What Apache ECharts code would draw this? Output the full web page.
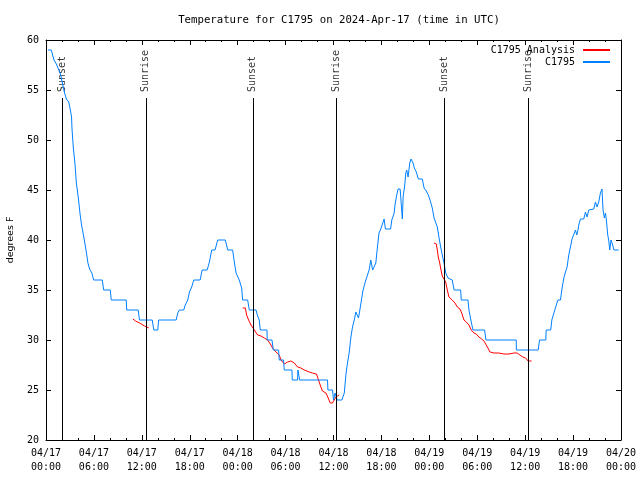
<!DOCTYPE html>
<html>
<head>
<meta charset="utf-8">
<script src="https://cdn.jsdelivr.net/npm/echarts@6/dist/echarts.min.js"></script>
<style>html,body{margin:0;padding:0;background:#fff}#c{width:640px;height:480px}</style>
</head>
<body>
<div id="c"></div>
<script>
// Hours since 2024-04-17 00:00 UTC
const stationHours = [0.25,0.65,0.8,1.0,1.3,1.55,1.85,2.1,2.33,2.55,2.85,3.05,3.2,3.25,3.42,3.62,3.8,4.05,4.25,4.45,4.62,4.84,5.05,5.25,5.46,5.75,5.96,7.05,7.22,8.05,8.17,10.05,10.1,11.55,11.7,13.3,13.5,14.0,14.1,16.3,16.5,16.7,17.25,17.43,17.75,17.96,18.25,18.5,19.3,19.55,20.18,20.46,20.75,21.17,21.5,22.46,22.75,23.37,23.6,23.8,24.2,24.5,24.62,25.25,25.46,26.3,26.46,26.7,26.83,27.67,27.7,28.3,28.46,29.13,29.2,29.75,29.83,30.8,30.84,31.5,31.55,31.7,31.76,35.25,35.3,35.88,36.0,36.2,36.45,37.05,37.35,37.55,37.75,37.96,38.18,38.38,38.6,38.8,39.13,39.3,39.5,39.7,40.05,40.46,40.67,40.9,41.0,41.3,41.5,41.7,41.92,42.13,42.34,42.5,43.15,43.3,43.6,43.7,43.87,44.08,44.34,44.42,44.62,44.72,44.92,45.05,45.17,45.34,45.55,45.71,45.96,46.12,46.37,46.62,47.12,47.34,47.62,47.87,48.09,48.37,48.59,48.8,49.0,49.2,49.42,49.62,49.84,50.05,50.34,50.87,51.1,51.92,52.0,52.84,52.96,53.2,53.46,54.92,55.09,58.88,58.9,61.63,61.8,62.58,62.63,63.2,63.34,63.71,64.09,64.42,64.62,64.84,65.05,65.25,65.46,65.67,65.87,66.09,66.3,66.46,66.62,66.71,66.92,67.34,67.55,67.75,67.96,68.17,68.59,68.8,69.0,69.21,69.42,69.62,69.75,69.92,70.05,70.17,70.34,70.46,70.59,70.75,70.96,71.12,71.71];
const stationTemps = [59,59,58.6,58,57.6,57.1,56.5,55.5,54.7,54.1,53.8,53,52.3,51.2,49.2,47.7,45.7,44.2,42.7,41.5,40.8,39.8,38.8,37.7,37.1,36.7,36,36,35,35,34,34,33,33,32,32,31,31,32,32,32.7,33,33,33.5,34,34.8,35.3,36,36,37,37,37.8,39,39,40,40,39,39,37.7,36.7,36,35.2,34,34,33,33,32.5,32,31,31,30,30,29,29,28,28,27,27,26,26,27,27,26,26,25,25,24,24.7,24,24,24.7,26.5,27.7,28.7,30.3,31.3,32,32.8,32.2,33,34,35,36,37,38,37,37,37.7,39.3,40.7,41.1,41.3,42.1,41.1,41.1,42,42.7,43.5,44.3,45.1,45.1,44.3,42.1,44.3,45.5,46.7,47,46.3,47.7,48.1,47.7,47.2,46.8,46.1,46.1,45.2,44.9,44.5,44,43.2,42.2,42,41.3,40.3,39.3,38.5,37.7,36.7,36.2,36,35,35,34,34,33,32,31,31,30,30,29,29,30,30,31,31,32,33,34,34,35.2,36.2,36.8,37.3,38.5,39.3,40.1,40.3,41,40.5,41,41.5,42.1,42.1,42.8,42.3,43,43.1,43.1,43.8,43.3,43.8,44.7,45.1,43,42.2,42.7,42,40.5,40,39,40,39.5,39,39];

const analysis1Hours = [10.88,11.21,11.71,12.34,12.88];
const analysis1Temps = [32.1,31.9,31.7,31.4,31.2];
const analysis2Hours = [24.62,24.96,25.12,25.37,25.67,26.09,26.5,26.92,27.34,27.75,28.17,28.37,28.8,29.21,29.42,29.84,30.25,30.67,31.09,31.5,31.92,32.34,32.96,33.37,33.87,34.12,34.42,34.62,35.05,35.34,35.59,35.87,36.09,36.3,36.71];
const analysis2Temps = [33.2,33.2,32.5,32.0,31.5,31.0,30.5,30.4,30.2,30.0,29.5,29.2,28.8,28.5,28.0,27.6,27.8,27.9,27.7,27.3,27.2,27.0,26.8,26.7,26.6,26.0,25.3,24.9,24.7,24.2,23.7,23.7,24.0,24.3,24.5];
const analysis3Hours = [48.59,48.87,49.0,49.12,49.3,49.46,49.62,49.84,50.05,50.25,50.46,50.67,50.87,51.21,51.5,51.84,52.05,52.34,52.62,52.96,53.25,53.59,53.87,54.21,54.55,54.84,55.05,55.34,55.59,56.09,56.71,57.34,57.96,58.59,59.0,59.34,59.71,60.05,60.37,60.8];
const analysis3Temps = [39.7,39.6,39.0,38.3,37.7,37.0,36.4,36.3,35.8,35.0,34.3,34.1,34.0,33.7,33.3,33.1,32.7,32.0,31.8,31.5,31.0,30.7,30.6,30.3,30.1,29.9,29.6,29.2,28.8,28.7,28.7,28.6,28.6,28.7,28.7,28.5,28.3,28.2,27.9,27.9];

const eventHours = [2.0, 12.5, 25.9, 36.4, 49.9, 60.4];
const eventLabels = ['Sunset','Sunrise','Sunset','Sunrise','Sunset','Sunrise'];
const eventLineTop = 54.2;
const eventLabelBase = 54.8;

const yTicks = [20,25,30,35,40,45,50,55,60];
const dayLabels = ['04/17','04/18','04/19','04/20'];

const MONO = '"DejaVu Sans Mono","Liberation Mono",monospace';

function zip(h, t) { return h.map((x, i) => [x, t[i]]); }
const stationData = zip(stationHours, stationTemps);
const analysisData = [].concat(zip(analysis1Hours, analysis1Temps), [[null, null]],
  zip(analysis2Hours, analysis2Temps), [[null, null]], zip(analysis3Hours, analysis3Temps));

function fmtX(v) {
  const d = Math.floor(v / 24);
  const hh = String(Math.round(v - d * 24)).padStart(2, '0');
  return dayLabels[d] + '\n' + hh + ':00';
}

const chart = echarts.init(document.getElementById('c'), null, { renderer: 'canvas' });
const baseX = {
  type: 'value', min: 0, max: 72, interval: 6,
  axisLine: { show: true, onZero: false, lineStyle: { color: '#000', width: 1 } },
  axisTick: { show: true, inside: true, length: 5, lineStyle: { color: '#000' } },
  minorTick: { show: true, splitNumber: 3, length: 2, lineStyle: { color: '#000' } },
  splitLine: { show: false }
};
const baseY = {
  type: 'value', min: yTicks[0], max: yTicks[yTicks.length - 1], interval: 5,
  axisLine: { show: true, onZero: false, lineStyle: { color: '#000', width: 1 } },
  axisTick: { show: true, inside: true, length: 5, lineStyle: { color: '#000' } },
  splitLine: { show: false }
};

chart.setOption({
  animation: false,
  backgroundColor: '#fff',
  title: {
    text: 'Temperature for C1795 on 2024-Apr-17 (time in UTC)',
    left: 334, top: 10, textAlign: 'center',
    textStyle: { fontFamily: MONO, fontSize: 10.7, fontWeight: 'normal', color: '#000' }
  },
  legend: {
    data: ['C1795 Analysis', 'C1795'],
    orient: 'vertical', align: 'right', right: 30, top: 44,
    itemWidth: 27, itemHeight: 2, itemGap: 0, padding: 0,
    icon: 'rect',
    textStyle: { fontFamily: MONO, fontSize: 10, color: '#000', padding: [0, 3, 0, 0], lineHeight: 12 }
  },
  grid: { left: 46, right: 19, top: 40, bottom: 40, containLabel: false, outerBoundsMode: 'none' },
  xAxis: [
    Object.assign({}, baseX, {
      position: 'bottom',
      axisLabel: { show: true, formatter: fmtX, fontFamily: MONO, fontSize: 10, color: '#000', lineHeight: 14, margin: 6 }
    }),
    Object.assign({}, baseX, { position: 'top', axisLabel: { show: false } })
  ],
  yAxis: [
    Object.assign({}, baseY, {
      position: 'left',
      name: 'degrees F', nameLocation: 'middle', nameRotate: 90, nameGap: 30,
      nameTextStyle: { fontFamily: '"DejaVu Sans",sans-serif', fontSize: 9.5, color: '#000' },
      axisLabel: { show: true, fontFamily: MONO, fontSize: 10, color: '#000', margin: 7 }
    }),
    Object.assign({}, baseY, { position: 'right', axisLabel: { show: false } })
  ],
  series: [
    {
      name: 'C1795 Analysis', type: 'line', data: analysisData,
      showSymbol: false, connectNulls: false,
      lineStyle: { color: '#ff0000', width: 1 }, itemStyle: { color: '#ff0000' }
    },
    {
      name: 'C1795', type: 'line', data: stationData,
      showSymbol: false,
      lineStyle: { color: '#0080ff', width: 1 }, itemStyle: { color: '#0080ff' },
      markLine: {
        silent: true, symbol: ['none', 'none'], animation: false,
        lineStyle: { color: '#000', width: 1, type: 'solid' },
        label: { show: false },
        data: eventHours.map(h => [{ coord: [h, yTicks[0]] }, { coord: [h, eventLineTop] }])
      }
    },
    {
      type: 'scatter', symbolSize: 0, silent: true,
      data: eventHours.map((h, i) => [h, eventLabelBase, eventLabels[i]]),
      label: {
        show: true, position: 'inside', rotate: 90, align: 'left', verticalAlign: 'middle',
        formatter: p => p.value[2],
        fontFamily: MONO, fontSize: 10, color: '#000'
      }
    }
  ]
});
</script>
</body>
</html>
